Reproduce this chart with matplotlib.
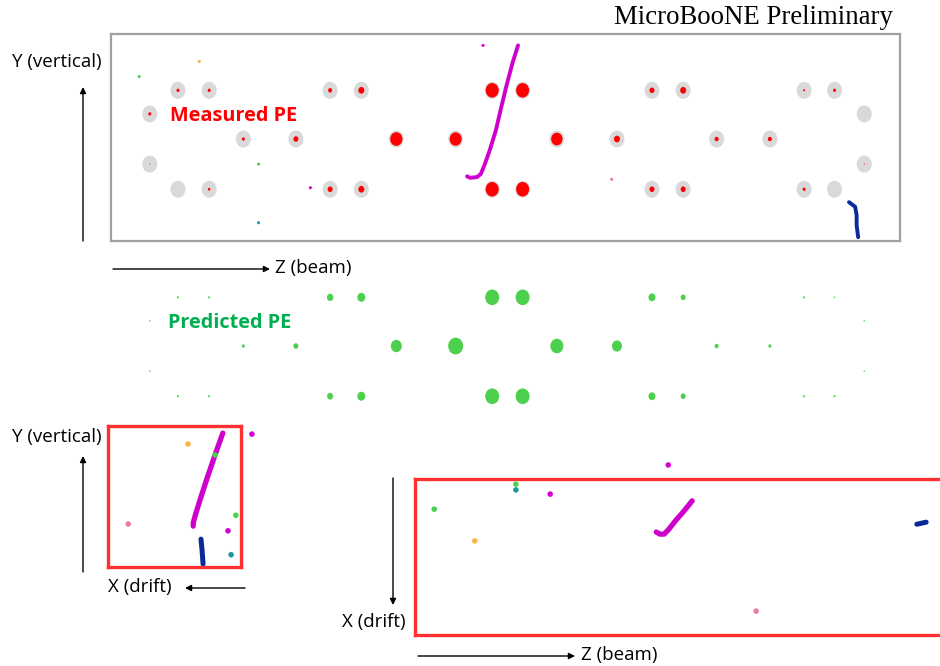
import matplotlib
matplotlib.use('Agg')
import matplotlib.pyplot as plt
from matplotlib.patches import Ellipse

W, H = 940, 666

# PMT positions in the Y-Z plane (cm): top row, middle row, bottom row, side PMTs
pmt_z = [88, 129, 288, 329, 501, 541, 711, 752, 911, 951,
         174, 243, 375, 453, 586, 665, 796, 866,
         88, 129, 288, 329, 501, 541, 711, 752, 911, 951,
         51, 51, 990, 990]
pmt_y = [62, 62, 62, 62, 62, 62, 62, 62, 62, 62,
         -2, -2, -2, -2, -2, -2, -2, -2,
         -68, -68, -68, -68, -68, -68, -68, -68, -68, -68,
         31, -35, 31, -35]
meas_pe = [9, 9, 16, 36, 169, 169, 25, 36, 4, 9,
           9, 25, 150, 144, 130, 36, 16, 16,
           0, 6, 25, 36, 169, 169, 25, 25, 9, 0,
           9, 1, 0, 1]
pred_pe = [4, 4, 42, 64, 196, 196, 49, 25, 4, 2,
           9, 25, 121, 225, 169, 100, 16, 9,
           4, 4, 36, 64, 196, 196, 49, 25, 4, 4,
           2, 2, 2, 2]

# reconstructed tracks, Y-Z view (cm)
mu_z = [535, 528, 520, 512, 506, 498, 491, 486, 481, 472, 468]
mu_y = [121, 99, 69, 36, 10, -16, -36, -48, -52, -53, -51]
bl_z = [970, 978, 980, 980, 982]
bl_y = [-85, -91, -102, -115, -131]
# small clusters, Y-Z view
hit_z = [116, 37, 194, 194, 262, 489, 658]
hit_y = [100, 80, -35, -112, -66, 121, -55]
hit_c = ['#ffb347', '#4dd04d', '#4dd04d', '#1a9a9a', '#d400d4', '#d400d4', '#e87ca8']

# Y-X view (cm)
mu_x_yx = [35, 50, 65, 79, 88, 92, 92]
mu_y_yx = [122, 80, 36, -7, -36, -51, -57]
bl_x_yx = [77, 75, 73]
bl_y_yx = [-82, -103, -130]
hit_x_yx = [102, 50, -21, 10, 25, 217, 19]
hit_y_yx = [101, 80, 120, -36, -66, -53, -112]
hit_c_yx = ['#ffb347', '#4dd04d', '#d400d4', '#4dd04d', '#d400d4', '#e87ca8', '#1a9a9a']

# Z-X view (cm)
mu_z_zx = [533, 517, 502, 487, 479, 471, 464]
mu_x_zx = [42, 62, 79, 98, 106, 106, 102]
bl_z_zx = [965, 983]
bl_x_zx = [87, 83]
hit_z_zx = [487, 37, 194, 194, 260, 115, 656]
hit_x_zx = [-27, 58, 10, 21, 29, 119, 254]
hit_c_zx = ['#d400d4', '#4dd04d', '#4dd04d', '#1a9a9a', '#d400d4', '#ffb347', '#e87ca8']

MAGENTA = '#d000cc'
NAVY = '#0a2a9a'
PX_TOP = 0.761  # px per cm in the top panels


def box(l, t, r, b):
    return [l / W, 1 - b / H, (r - l) / W, (b - t) / H]


def fp(x, y):
    return (x / W, 1 - y / H)


fig = plt.figure(figsize=(9.4, 6.66), dpi=100)

# measured PE panel
ax_m = fig.add_axes(box(111, 34, 900, 241))
ax_m.set_xlim(0, 1037)
ax_m.set_ylim(-136, 136)
for z, y, pe in zip(pmt_z, pmt_y, meas_pe):
    ax_m.add_patch(Ellipse((z, y), 15 / PX_TOP, 17 / PX_TOP, color='#d9d9d9', lw=0))
    if pe > 0:
        d = pe ** 0.5 / PX_TOP
        ax_m.add_patch(Ellipse((z, y), d, d * 1.12, color='#ff0000', lw=0))
ax_m.plot(mu_z, mu_y, color=MAGENTA, lw=2.8, solid_capstyle='round', solid_joinstyle='round')
ax_m.plot(bl_z, bl_y, color=NAVY, lw=2.8, solid_capstyle='round')
ax_m.scatter(hit_z, hit_y, s=5, c=hit_c, lw=0, clip_on=False)
ax_m.set_xticks([])
ax_m.set_yticks([])
for sp in ax_m.spines.values():
    sp.set_color('#a0a0a0')
    sp.set_linewidth(1.6)

# predicted PE panel
ax_p = fig.add_axes(box(111, 241, 900, 448))
ax_p.set_xlim(0, 1037)
ax_p.set_ylim(-136, 136)
for z, y, pe in zip(pmt_z, pmt_y, pred_pe):
    d = pe ** 0.5 / PX_TOP
    ax_p.add_patch(Ellipse((z, y), d, d * 1.12, color='#4dd04d', lw=0))
ax_p.axis('off')

# Y-X view
ax_yx = fig.add_axes(box(108, 426, 241, 567))
ax_yx.set_xlim(256, 0)
ax_yx.set_ylim(-135.6, 135.6)
ax_yx.plot(mu_x_yx, mu_y_yx, color=MAGENTA, lw=3.8, solid_capstyle='round', solid_joinstyle='round')
ax_yx.plot(bl_x_yx, bl_y_yx, color=NAVY, lw=3.6, solid_capstyle='round')
ax_yx.scatter(hit_x_yx, hit_y_yx, s=16, c=hit_c_yx, lw=0, clip_on=False, zorder=3)

# Z-X view
ax_zx = fig.add_axes(box(415, 479, 415 + 0.52 * 1037, 635))
ax_zx.set_xlim(0, 1037)
ax_zx.set_ylim(300, 0)
ax_zx.plot(mu_z_zx, mu_x_zx, color=MAGENTA, lw=3.8, solid_capstyle='round', solid_joinstyle='round')
ax_zx.plot(bl_z_zx, bl_x_zx, color=NAVY, lw=3.6, solid_capstyle='round')
ax_zx.scatter(hit_z_zx, hit_x_zx, s=16, c=hit_c_zx, lw=0, clip_on=False, zorder=3)

for ax in (ax_yx, ax_zx):
    ax.set_xticks([])
    ax.set_yticks([])
    for sp in ax.spines.values():
        sp.set_color('#ff3030')
        sp.set_linewidth(2.4)

# texts and axis arrows
font = 'Open Sans'
fig.text(*fp(893, 18), 'MicroBooNE Preliminary', family='Liberation Serif',
         fontsize=19.3, ha='right', va='center')
fig.text(*fp(170, 116), 'Measured PE', family=font, weight='bold', color='#ff0000',
         fontsize=14.3, ha='left', va='center')
fig.text(*fp(168, 323), 'Predicted PE', family=font, weight='bold', color='#00b050',
         fontsize=14.3, ha='left', va='center')

arrow = dict(arrowstyle='-|>', color='black', lw=1, mutation_scale=9, shrinkA=0, shrinkB=0)


def axis_arrow(x0, y0, x1, y1):
    fig.add_artist(plt.Annotation('', xy=fp(x1, y1), xytext=fp(x0, y0),
                                  xycoords='figure fraction', arrowprops=arrow))


def label(x, y, s, ha='left'):
    fig.text(*fp(x, y), s, family=font, fontsize=13.5, ha=ha, va='center')


label(57, 62, 'Y (vertical)', ha='center')
axis_arrow(83, 241, 83, 87)
axis_arrow(113, 269, 270, 269)
label(275, 268, 'Z (beam)')

label(57, 437, 'Y (vertical)', ha='center')
axis_arrow(83, 572, 83, 456)
label(108, 587, 'X (drift)')
axis_arrow(245, 588, 185, 588)

axis_arrow(393, 478, 393, 605)
label(342, 622, 'X (drift)')
axis_arrow(418, 656, 575, 656)
label(581, 655, 'Z (beam)')

fig.savefig('out.png', dpi=100)
